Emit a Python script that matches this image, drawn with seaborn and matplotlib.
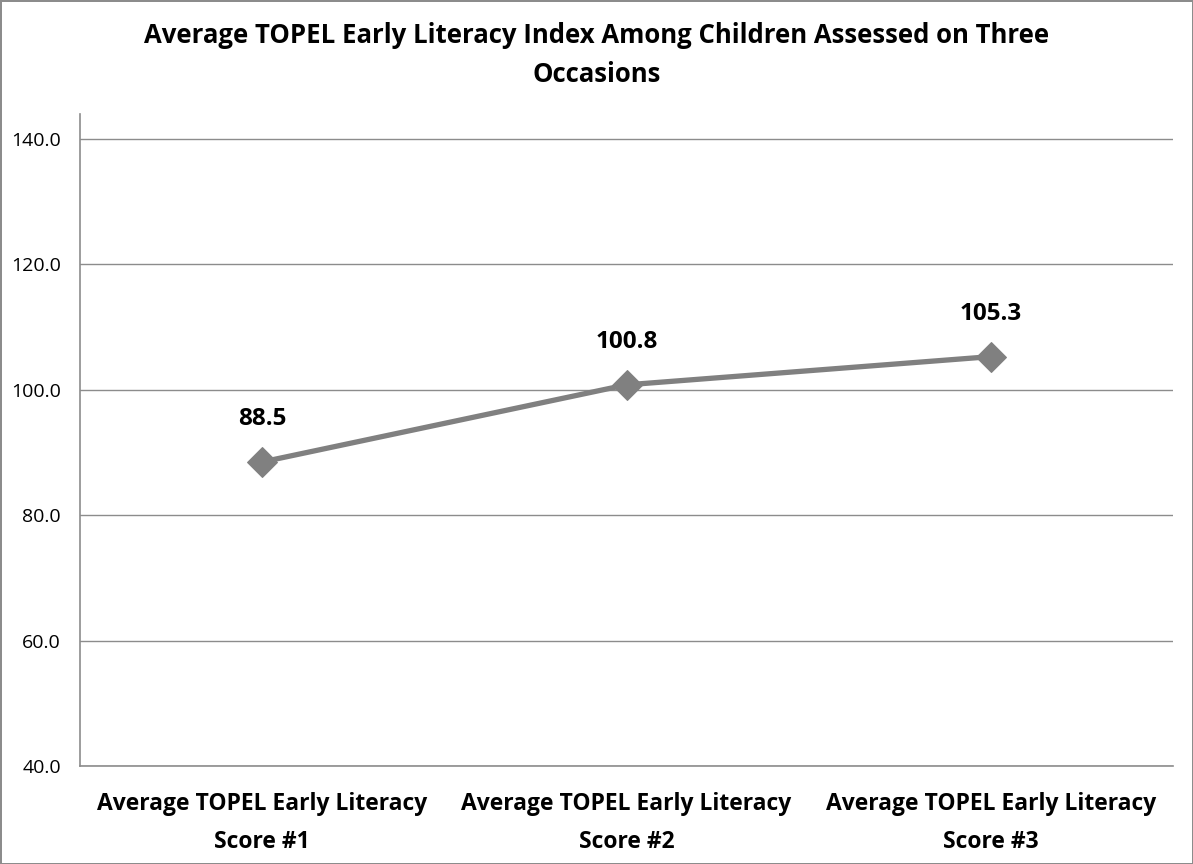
import pandas as pd
import numpy as np

import matplotlib.pyplot as plt
import seaborn as sns

categories = ["Average TOPEL Early Literacy\nScore #1",
              "Average TOPEL Early Literacy\nScore #2",
              "Average TOPEL Early Literacy\nScore #3"]
scores = [88.5, 100.8, 105.3]
y_ticks = [40, 60, 80, 100, 120, 140]


def main():
    sns.set_style("white")
    plt.rcParams['font.family'] = ['Open Sans', 'DejaVu Sans']
    plt.rcParams['text.color'] = 'black'
    plt.rcParams['xtick.color'] = '#8c8c8c'
    plt.rcParams['ytick.color'] = '#8c8c8c'

    df = pd.DataFrame({"label": categories, "score": scores})
    df["pos"] = np.arange(len(df))

    fig = plt.figure(figsize=(11.93, 8.64), dpi=100, edgecolor='#8c8c8c', linewidth=2)
    ax = fig.add_axes([80 / 1193, 98 / 864, 1093 / 1193, 652 / 864])

    sns.lineplot(data=df, x="pos", y="score", ax=ax, color='#808080',
                 linewidth=3.8, marker='D', markersize=15,
                 markeredgecolor='#808080', sort=False)

    # data labels
    for _, row in df.iterrows():
        ax.annotate(f"{row['score']:.1f}", (row['pos'], row['score']),
                    xytext=(0, 31), textcoords='offset points',
                    ha='center', va='center', fontsize=17.5, fontweight='bold')

    ax.set_xlim(-0.5, len(df) - 0.5)
    ax.set_ylim(40, 144)
    ax.set_yticks(y_ticks)
    ax.set_yticklabels([f"{v:.1f}" for v in y_ticks], fontsize=14, color='black')
    ax.set_xticks(df["pos"])
    ax.set_xticklabels(categories, fontsize=16.5, fontweight='bold', color='black',
                       linespacing=1.75)
    ax.set_xticks(np.arange(-0.5, len(df)), minor=True)
    ax.tick_params(axis='x', which='major', length=0, pad=19)
    ax.tick_params(axis='x', which='minor', length=5.8, width=1.2, direction='out')
    ax.tick_params(axis='y', length=5.8, width=1.2, direction='out', pad=8)
    ax.yaxis.grid(True, color='#8c8c8c', linewidth=1)
    ax.set_xlabel("")
    ax.set_ylabel("")

    for side in ['top', 'right']:
        ax.spines[side].set_visible(False)
    for side in ['left', 'bottom']:
        ax.spines[side].set_color('#8c8c8c')
        ax.spines[side].set_linewidth(1.2)

    fig.text(0.5, 1 - 55 / 864,
             "Average TOPEL Early Literacy Index Among Children Assessed on Three\nOccasions",
             ha='center', va='center', fontsize=18.5, fontweight='bold', linespacing=1.55)

    fig.savefig("out.png", dpi=100)


if __name__ == "__main__":
    main()
